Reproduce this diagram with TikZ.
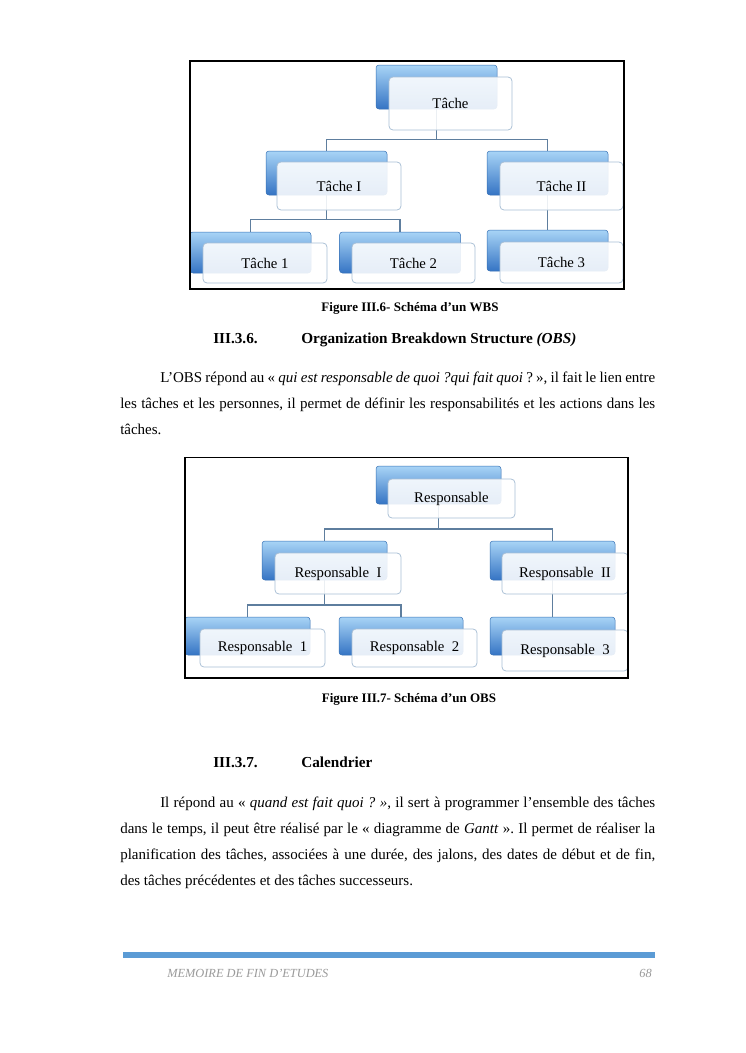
\documentclass[tikz,border=0pt]{standalone}
\usepackage{fontspec}
\setmainfont{Liberation Serif}
\frenchspacing
\pgfdeclarelayer{paper}
\pgfdeclarelayer{bg}
\pgfsetlayers{paper,bg,main}
\definecolor{bluetop}{HTML}{A8D4F6}
\definecolor{bluemid}{HTML}{4B8FDC}
\definecolor{bluebot}{HTML}{3574C4}
\definecolor{blueedge}{HTML}{3670B5}
\definecolor{frontedge}{HTML}{A9BFD5}
\definecolor{conncol}{HTML}{5E7E9E}
\definecolor{barblue}{HTML}{5B9BD5}
\definecolor{footgray}{HTML}{9A9A9A}
\begin{document}
\begin{tikzpicture}[x=0.8pt,y=-0.8pt,
  sz/.style 2 args={minimum width=#1*0.8pt, minimum height=#2*0.8pt},
  backbox/.style={rounded corners=2.4pt, top color=bluetop, middle color=bluemid, bottom color=bluebot, draw=blueedge, line width=0.4pt, inner sep=0pt},
  frontbox/.style={rounded corners=3.2pt, draw=frontedge, line width=0.6pt, fill=white, fill opacity=0.88, text opacity=1, inner sep=0pt, font=\fontsize{11.8}{13}\selectfont},
  connector/.style={draw=conncol, line width=0.9pt},
  framebox/.style={draw=black, line width=1.5pt},
  body/.style={anchor=base west, inner sep=0pt, font=\fontsize{12}{14}\selectfont},
  caption/.style={anchor=base, inner sep=0pt, font=\fontsize{10.4}{12}\selectfont\bfseries},
  heading/.style={anchor=base west, inner sep=0pt, font=\fontsize{12.2}{14}\selectfont\bfseries},
  footer/.style={inner sep=0pt, text=footgray, font=\fontsize{9.9}{11}\selectfont\itshape}]
\begin{pgfonlayer}{paper}
\path[use as bounding box, fill=white] (0,0) rectangle (745,1053);
\end{pgfonlayer}

% ---------------- WBS ----------------
\node[backbox, sz={121}{44}] (t0b) at (436.5,87) {};
\node[frontbox, sz={123}{53}] (t0) at (450.5,103.5) {Tâche};
\node[backbox, sz={121}{44}] (t1b) at (326.5,173) {};
\node[frontbox, sz={124}{48}] (t1) at (339,186) {Tâche I};
\node[backbox, sz={121}{44}] (t2b) at (547.5,173) {};
\node[frontbox, sz={123}{48}] (t2) at (561.5,186) {Tâche II};
\node[backbox, sz={121}{41}] (t11b) at (250.5,252.5) {};
\node[frontbox, sz={124}{40}] (t11) at (265,263) {Tâche 1};
\node[backbox, sz={121}{41}] (t12b) at (400,252.5) {};
\node[frontbox, sz={123}{40}] (t12) at (413.5,263) {Tâche 2};
\node[backbox, sz={121}{41}] (t21b) at (547.5,250.5) {};
\node[frontbox, sz={123}{41}] (t21) at (561.5,262.5) {Tâche 3};
\coordinate (j0) at (436.5,139.5);
\coordinate (j1) at (326.5,219.5);
\begin{pgfonlayer}{bg}
\draw[connector] (t0b.center) -- (j0);
\draw[connector] (t1b.north) |- (j0) -| (t2b.north);
\draw[connector] (t1b.center) -- (j1);
\draw[connector] (t11b.north) |- (j1) -| (t12b.north);
\draw[connector] (t2b.center) -- (t21b.north);
\end{pgfonlayer}
\draw[framebox] (190,61) rectangle (624,289);

\node[caption] (cap1) at (410,311) {Figure III.6- Schéma d’un WBS};
\node[heading] (h1n) at (213,343.5) {III.3.6.};
\node[heading] (h1t) at (301,343.5) {Organization Breakdown Structure \textit{(OBS)}};

\node[body] (p1a) at (160,382.5) {\makebox[396pt][s]{L’OBS répond au « \textit{qui est responsable de quoi ?qui fait quoi} ? », il fait le lien entre}};
\node[body] (p1b) at (120,408.5) {\makebox[428pt][s]{les tâches et les personnes, il permet de définir les responsabilités et les actions dans les}};
\node[body] (p1c) at (120,434.5) {tâches.};

% ---------------- OBS ----------------
\node[backbox, sz={125}{38}] (r0b) at (438.5,485) {};
\node[frontbox, sz={127}{39}] (r0) at (451.5,498.5) {Responsable};
\node[backbox, sz={125}{39}] (r1b) at (324.5,560.5) {};
\node[frontbox, sz={126}{41}] (r1) at (338,573.5) {Responsable\ \ I};
\node[backbox, sz={125}{39}] (r2b) at (552.5,560.5) {};
\node[frontbox, sz={126}{41}] (r2) at (565,573.5) {Responsable\ \ II};
\node[backbox, sz={125}{38}] (r11b) at (247.5,636) {};
\node[frontbox, sz={125}{38}] (r11) at (262.5,648) {Responsable\ \ 1};
\node[backbox, sz={124}{38}] (r12b) at (401,636) {};
\node[frontbox, sz={125}{38}] (r12) at (414.5,648) {Responsable\ \ 2};
\node[backbox, sz={125}{38}] (r21b) at (552.5,636) {};
\node[frontbox, sz={126}{41}] (r21) at (565,650.5) {Responsable\ \ 3};
\coordinate (k0) at (438.5,529);
\coordinate (k1) at (324.5,605);
\begin{pgfonlayer}{bg}
\draw[connector] (r0b.center) -- (k0);
\draw[connector] (r1b.north) |- (k0) -| (r2b.north);
\draw[connector] (r1b.center) -- (k1);
\draw[connector] (r11b.north) |- (k1) -| (r12b.north);
\draw[connector] (r2b.center) -- (r21b.north);
\end{pgfonlayer}
\draw[framebox] (185,457.5) rectangle (628,678);

\node[caption] (cap2) at (409,702) {Figure III.7- Schéma d’un OBS};
\node[heading] (h2n) at (213,767.5) {III.3.7.};
\node[heading] (h2t) at (301,767.5) {Calendrier};

\node[body] (p2a) at (160,807) {\makebox[396pt][s]{Il répond au « \textit{quand est fait quoi ? »}, il sert à programmer l’ensemble des tâches}};
\node[body] (p2b) at (120,833) {\makebox[428pt][s]{dans le temps, il peut être réalisé par le « diagramme de \textit{Gantt} ». Il permet de réaliser la}};
\node[body] (p2c) at (120,859) {\makebox[428pt][s]{planification des tâches, associées à une durée, des jalons, des dates de début et de fin,}};
\node[body] (p2d) at (120,885) {des tâches précédentes et des tâches successeurs.};

% ---------------- footer ----------------
\fill[barblue] (123,952) rectangle (655,958);
\node[footer, anchor=base west] (ft) at (167,977) {MEMOIRE DE FIN D’ETUDES};
\node[footer, anchor=base east] (pg) at (652,977) {68};
\end{tikzpicture}
\end{document}
